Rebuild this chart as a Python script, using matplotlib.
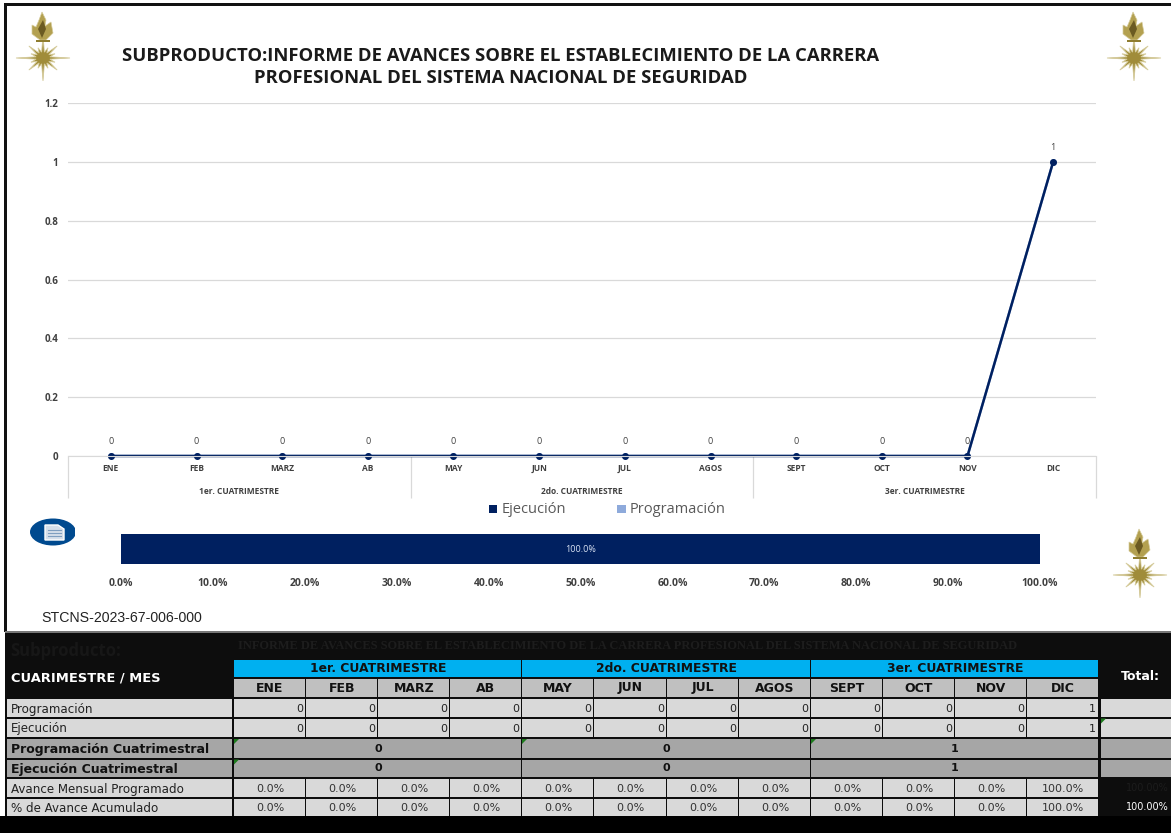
import matplotlib
matplotlib.use('Agg')
import matplotlib.pyplot as plt
from matplotlib.patches import Rectangle, Ellipse, Polygon
from matplotlib.transforms import blended_transform_factory
import numpy as np

# datos de la grafica
meses = ['ENE', 'FEB', 'MARZ', 'AB', 'MAY', 'JUN', 'JUL', 'AGOS', 'SEPT', 'OCT', 'NOV', 'DIC']
cuatrimestres = ['1er. CUATRIMESTRE', '2do. CUATRIMESTRE', '3er. CUATRIMESTRE']
programacion = [0, 0, 0, 0, 0, 0, 0, 0, 0, 0, 0, 1]
ejecucion = [0, 0, 0, 0, 0, 0, 0, 0, 0, 0, 0, 1]
prog_cuatri = [0, 0, 1]
ejec_cuatri = [0, 0, 1]
avance_mensual = [0, 0, 0, 0, 0, 0, 0, 0, 0, 0, 0, 100]
avance_acum = [0, 0, 0, 0, 0, 0, 0, 0, 0, 0, 0, 100]
avance_total = 100.0
y_ticks = [0, 0.2, 0.4, 0.6, 0.8, 1, 1.2]
pct_ticks = [0, 10, 20, 30, 40, 50, 60, 70, 80, 90, 100]

titulo = ('SUBPRODUCTO:INFORME DE AVANCES SOBRE EL ESTABLECIMIENTO DE LA CARRERA\n'
          'PROFESIONAL DEL SISTEMA NACIONAL DE SEGURIDAD')
subproducto = 'INFORME DE AVANCES SOBRE EL ESTABLECIMIENTO DE LA CARRERA PROFESIONAL DEL SISTEMA NACIONAL DE SEGURIDAD'
codigo = 'STCNS-2023-67-006-000'

NAVY = '#002060'
LIGHT = '#8eaadb'
W, H = 1171, 833
LAB = '#404040'

fig = plt.figure(figsize=(W / 100, H / 100), dpi=100, facecolor='white')


def px_axes(x0, y0, x1, y1):
    # ejes a partir de pixeles de la imagen
    return fig.add_axes([x0 / W, 1 - y1 / H, (x1 - x0) / W, (y1 - y0) / H])


# capa de fondo en pixeles
bg = fig.add_axes([0, 0, 1, 1], zorder=0)
bg.set_xlim(0, W)
bg.set_ylim(H, 0)
bg.axis('off')


def box(x0, y0, x1, y1, color):
    bg.add_patch(Rectangle((x0, y0), x1 - x0, y1 - y0, fc=color, ec='none'))


def txt(x, y, s, size=8, color='black', weight='normal', ha='center', family='DejaVu Sans'):
    bg.text(x, y, s, fontsize=size, color=color, fontweight=weight, ha=ha, va='center', family=family)


# marco
box(4, 3, W, 5.5, '#111111')
box(4, 3, 7, 632, '#111111')


def logo(cx, cy):
    # estrella dorada con flama
    ang = np.linspace(0, 2 * np.pi, 33)[:-1]
    rad = np.where(np.arange(32) % 2 == 1, 7.0, 13.0)
    rad[np.arange(32) % 8 == 0] = 27
    rad[np.arange(32) % 8 == 4] = 20
    xs = cx + rad * np.cos(ang)
    ys = cy + rad * np.sin(ang) * 0.85
    bg.add_patch(Polygon(np.c_[xs, ys], fc='#a08c3a', ec='#d6cc9c', lw=0.6))
    verts = [(cx - 3, cy - 18), (cx - 11, cy - 24), (cx - 11, cy - 33), (cx - 7, cy - 31), (cx - 4, cy - 38),
             (cx - 1, cy - 46), (cx + 3, cy - 38), (cx + 2, cy - 32), (cx + 8, cy - 36), (cx + 10, cy - 25), (cx + 3, cy - 18)]
    bg.add_patch(Polygon(verts, fc='#b3a050', ec='#d6cc9c', lw=0.5))
    bg.add_patch(Polygon([(cx - 1, cy - 20), (cx - 5, cy - 29), (cx, cy - 38), (cx + 3, cy - 29)], fc='#6b5a22', ec='none'))
    box(cx - 7, cy - 18, cx + 7, cy - 16, '#8f7d30')


logo(43, 58)
logo(1134, 58)
logo(1140, 575)

# titulo
fig.text(501 / W, 1 - 67 / H, titulo, fontsize=13.3, fontweight='bold', color='#1a1a1a', ha='center',
         va='center', family='Open Sans', linespacing=1.25)

# grafica de lineas
ax = px_axes(68, 103, 1096, 456)
ax.patch.set_alpha(0)
x = np.arange(len(meses))
ax.plot(x, programacion, color=LIGHT, lw=1.8, marker='o', ms=4)
ax.plot(x, ejecucion, color=NAVY, lw=1.8, marker='o', ms=4, clip_on=False)
for xi, v in zip(x, ejecucion):
    ax.annotate(str(v), (xi, v), xytext=(0, 7), textcoords='offset points', ha='center', va='bottom',
                fontsize=6.5, color=LAB, family='Open Sans')
ax.set_xlim(-0.5, 11.5)
ax.set_ylim(0, 1.2)
ax.set_yticks(y_ticks)
ax.set_yticklabels([str(t) for t in y_ticks], fontsize=7, color=LAB, fontweight='bold', family='Open Sans')
ax.tick_params(axis='y', length=0, pad=7)
ax.grid(axis='y', color='#d9d9d9', lw=0.9)
ax.set_axisbelow(True)
for s in ['top', 'left', 'right']:
    ax.spines[s].set_visible(False)
ax.spines['bottom'].set_color('#d9d9d9')
ax.set_xticks([-0.5, 3.5, 7.5, 11.5])
ax.set_xticklabels([])
ax.tick_params(axis='x', which='major', length=30, color='#d9d9d9', width=0.9)
ax.set_xticks(x, minor=True)
ax.set_xticklabels(meses, minor=True, fontsize=6, fontweight='bold', color=LAB, family='Open Sans')
ax.tick_params(axis='x', which='minor', length=0, pad=6)
tr = blended_transform_factory(ax.transData, ax.transAxes)
for i, c in enumerate(cuatrimestres):
    ax.text(1.5 + 4 * i, -35 / 353, c, transform=tr, fontsize=6, fontweight='bold', color=LAB,
            ha='center', va='center', family='Open Sans')

# leyenda
box(489, 505, 497, 513, NAVY)
txt(502, 509.5, 'Ejecución', size=10.5, color='#595959', ha='left', family='Open Sans')
box(617, 505, 626, 513, LIGHT)
txt(630, 509.5, 'Programación', size=10.5, color='#595959', ha='left', family='Open Sans')

# barra de avance
ax2 = px_axes(121, 534, 1040, 564)
ax2.patch.set_alpha(0)
ax2.barh([0], [avance_total], height=1, color=NAVY)
ax2.text(avance_total / 2, 0, '%.1f%%' % avance_total, color='#d9e2f3', fontsize=6.5, ha='center', va='center', family='Open Sans')
ax2.set_xlim(0, 100)
ax2.set_ylim(-0.5, 0.5)
ax2.set_yticks([])
ax2.set_xticks(pct_ticks)
ax2.set_xticklabels(['%.1f%%' % p for p in pct_ticks], fontsize=7.5, fontweight='bold', color=LAB, family='Open Sans')
ax2.tick_params(axis='x', length=0, pad=10)
for s in ax2.spines.values():
    s.set_visible(False)

# icono
bg.add_patch(Ellipse((53, 532), 46, 27, fc='#004a8f', ec='none'))
box(74.5, 515, 80, 550, 'white')
bg.add_patch(Polygon([(45, 525), (58, 525), (64, 529), (64, 540), (45, 540)], fc='#d5dfea', ec='white', lw=1))
for yy in [530, 533, 536]:
    bg.plot([48, 61], [yy, yy], color='#7f9fc0', lw=0.8)

txt(41, 618.5, codigo, size=10.2, color='#222222', ha='left', family='Liberation Sans')

# tabla
box(5, 632, W, 816, '#0d0d0d')
box(0, 816, W, H, 'black')
box(5, 631, W, 632.5, '#777777')
txt(10, 651, 'Subproducto:', size=12, color='#171717', weight='bold', ha='left', family='Open Sans')
txt(238, 646, subproducto, size=8.9, color='#1d1d1d', weight='bold', ha='left', family='Liberation Serif')
txt(11, 678, 'CUARIMESTRE / MES', size=9.4, color='white', weight='bold', ha='left')
txt(1140, 677, 'Total:', size=9, color='white', weight='bold')

bordes = [234, 306, 378, 450, 522, 594, 667, 739, 811, 883, 955, 1027, 1099]
filas = [(699, 717), (718.5, 737), (779, 797), (798.5, 816)]
GR1 = '#d9d9d9'
GR2 = '#c0c0c0'
GR3 = '#a6a6a6'
for i, c in enumerate(cuatrimestres):
    x0, x1 = bordes[4 * i], bordes[4 * i + 4]
    box(x0, 660, x1 - 1, 677, '#00b0f0')
    txt((x0 + x1) / 2, 668.5, c, size=8.9, color='#111111', weight='bold')
    for (y0, y1), v in zip([(739, 758), (759.5, 777)], [prog_cuatri[i], ejec_cuatri[i]]):
        box(x0, y0, x1 - 1.5, y1, GR3)
        txt((x0 + x1) / 2, (y0 + y1) / 2, str(v), size=8, weight='bold', color='#111111')
    for y0, y1 in [(739, 758)] + ([(759.5, 777)] if i == 0 else []):
        bg.add_patch(Polygon([(x0, y0), (x0 + 5, y0), (x0, y0 + 5)], fc='#1e7b1e', ec='none'))

for j, m in enumerate(meses):
    x0, x1 = bordes[j], bordes[j + 1]
    box(x0, 679, x1 - 1.5, 697, GR2)
    txt((x0 + x1) / 2, 688, m, size=9, color='#111111', weight='bold')
    for (y0, y1), v in zip(filas[:2], [programacion[j], ejecucion[j]]):
        box(x0, y0, x1 - 1.5, y1, GR1)
        txt(x1 - 3, (y0 + y1) / 2 + 1, str(v), size=8, color='#222222', ha='right')
    for (y0, y1), v in zip(filas[2:], [avance_mensual[j], avance_acum[j]]):
        box(x0, y0, x1 - 1.5, y1, GR1)
        txt((x0 + x1) / 2, (y0 + y1) / 2 + 1, '%.1f%%' % v, size=8, color='#333333')

# primera columna
etiquetas = ['Programación', 'Ejecución', 'Avance Mensual Programado', '% de Avance Acumulado']
for (y0, y1), e in zip(filas, etiquetas):
    box(7, y0, 232, y1, GR1)
    txt(11, (y0 + y1) / 2 + 1, e, size=8.6, color='#222222', ha='left')
for (y0, y1), e in zip([(739, 758), (759.5, 777)], ['Programación Cuatrimestral', 'Ejecución Cuatrimestral']):
    box(7, y0, 232, y1, GR3)
    txt(11, (y0 + y1) / 2 + 1, e, size=9, color='#111111', weight='bold', ha='left')

# columna total
for (y0, y1), col in zip([(699, 717), (718.5, 737), (739, 758), (759.5, 777)], [GR1, GR1, GR3, GR3]):
    box(1101, y0, W, y1, col)
bg.add_patch(Polygon([(1101, 718.5), (1106, 718.5), (1101, 723.5)], fc='#1e7b1e', ec='none'))
txt(1169, 788, '%.2f%%' % avance_total, size=7, color='#1c1c1c', ha='right')
txt(1169, 807, '%.2f%%' % avance_total, size=7, color='white', ha='right')

fig.savefig('out.png', dpi=100)
